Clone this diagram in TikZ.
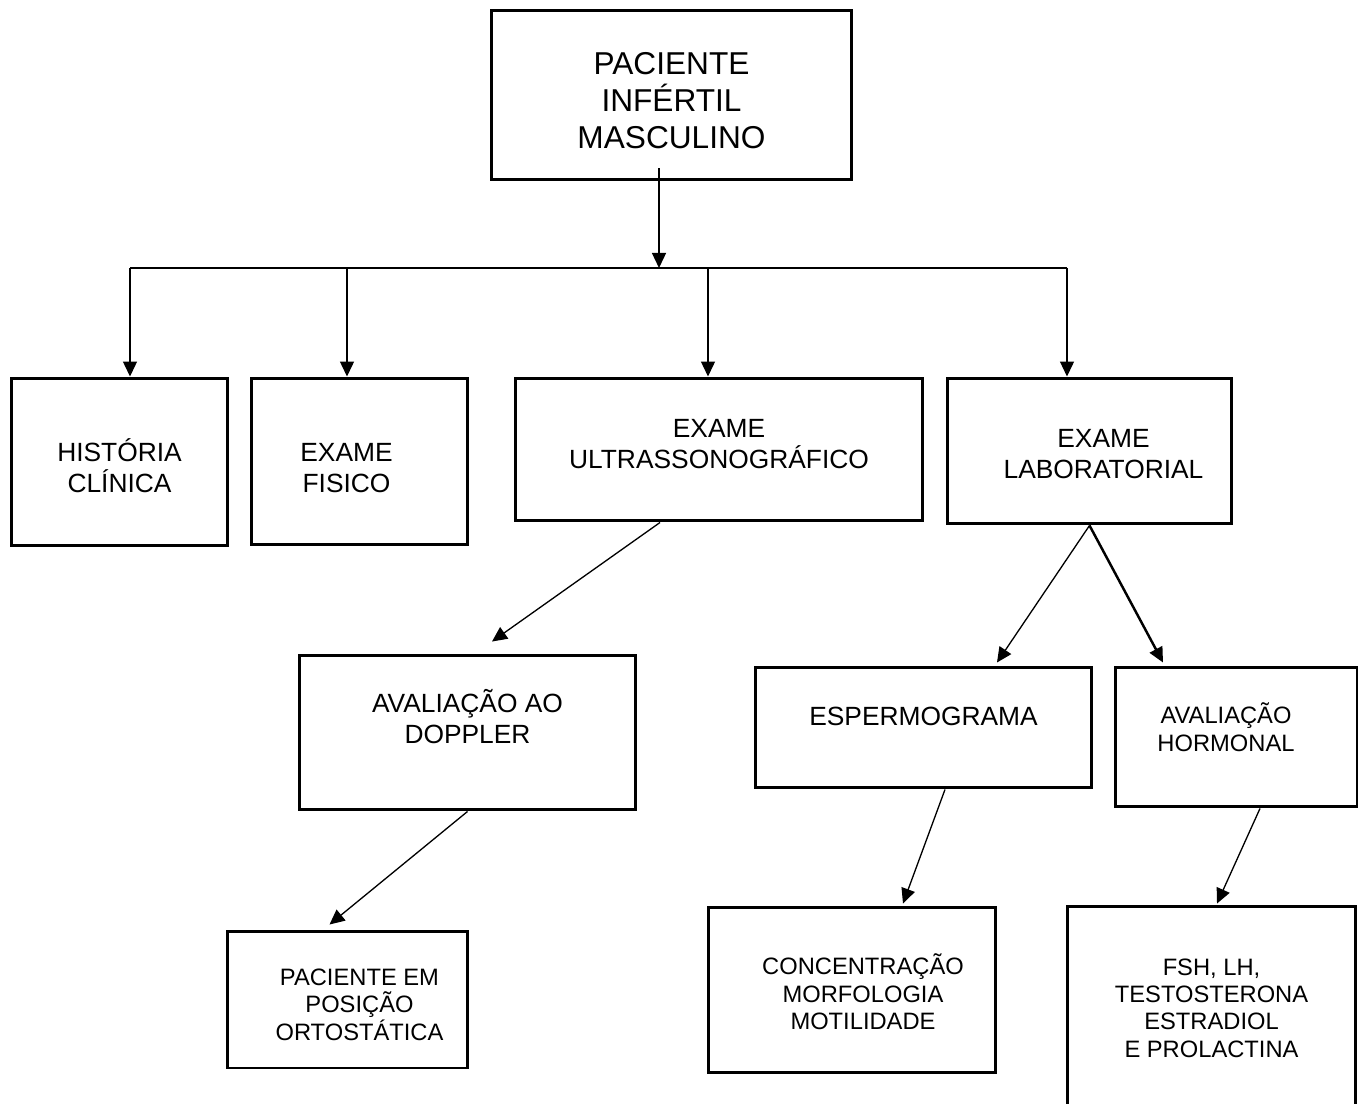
\documentclass[tikz,border=0pt]{standalone}
\usepackage{fontspec}
\setmainfont{Liberation Sans}
\usetikzlibrary{arrows.meta,positioning}

\begin{document}
\begin{tikzpicture}[
    x=0.02cm, y=-0.02cm,
    box/.style={draw, line width=1.7pt, inner sep=0pt},
    bigtext/.style={align=center, font=\fontsize{18}{21}\selectfont},
    boxtext/.style={align=center, font=\fontsize{15}{17.6}\selectfont},
    smalltext/.style={align=center, font=\fontsize{13.5}{15.6}\selectfont},
    arrow/.style={-{Triangle[length=3mm, width=2.8mm]}, line width=0.75pt},
    boldarrow/.style={-{Triangle[length=3mm, width=2.8mm]}, line width=1.4pt}
]
\useasboundingbox (0,0) rectangle (1365,1104);
% top of the tree
\node[box, minimum width=7.22cm, minimum height=3.40cm,
      label={[bigtext, yshift=-0.12cm]center:PACIENTE\\INFÉRTIL\\MASCULINO}] (paciente) at (671.5,95) {};
% first level
\node[box, minimum width=4.34cm, minimum height=3.36cm,
      label={[boxtext, yshift=-0.08cm]center:HISTÓRIA\\CLÍNICA}] (historia) at (119.5,462) {};
\node[box, minimum width=4.34cm, minimum height=3.34cm,
      label={[boxtext, xshift=-0.26cm, yshift=-0.14cm]center:EXAME\\FISICO}] (fisico) at (359.5,461.5) {};
\node[box, minimum width=8.16cm, minimum height=2.86cm,
      label={[boxtext, yshift=0.10cm]center:EXAME\\ULTRASSONOGRÁFICO}] (ultra) at (719,449.5) {};
\node[box, minimum width=5.70cm, minimum height=2.92cm,
      label={[boxtext, xshift=0.28cm, yshift=-0.06cm]center:EXAME\\LABORATORIAL}] (lab) at (1089.5,451) {};
% second level
\node[box, minimum width=6.74cm, minimum height=3.10cm,
      label={[boxtext, yshift=0.32cm]center:AVALIAÇÃO AO\\DOPPLER}] (doppler) at (467.5,732.5) {};
\node[box, minimum width=6.74cm, minimum height=2.42cm,
      label={[boxtext, yshift=0.22cm]center:ESPERMOGRAMA}] (esperm) at (923.5,727.5) {};
\node[box, minimum width=4.84cm, minimum height=2.80cm,
      label={[smalltext, xshift=-0.2cm, yshift=0.20cm]center:AVALIAÇÃO\\HORMONAL}] (hormonal) at (1236,737) {};
% third level
\node[box, minimum width=4.82cm, minimum height=2.74cm,
      label={[smalltext, xshift=0.24cm, yshift=-0.10cm]center:PACIENTE EM\\POSIÇÃO\\ORTOSTÁTICA}] (ortost) at (347.5,999.5) {};
\node[box, minimum width=5.76cm, minimum height=3.32cm,
      label={[smalltext, xshift=0.22cm, yshift=-0.04cm]center:CONCENTRAÇÃO\\MORFOLOGIA\\MOTILIDADE}] (concent) at (852,990) {};
\node[box, minimum width=5.78cm, minimum height=4.08cm,
      label={[smalltext]center:FSH, LH,\\TESTOSTERONA\\ESTRADIOL\\E PROLACTINA}] (fsh) at (1211.5,1008) {};
% bus line
\coordinate (bus) at (659,268);
\coordinate (busL) at (130,268);
\coordinate (busR) at (1067,268);
\draw[arrow] ([yshift=0.26cm]paciente.south -| bus) -- (bus);
\draw[line width=0.75pt] (busL) -- (busR);
\draw[arrow] (busL) -- (busL |- historia.north);
\draw[arrow] (busL -| 347,0) -- (historia.north -| 347,0);
\draw[arrow] (busL -| 708,0) -- (ultra.north -| 708,0);
\draw[arrow] (busR) -- (busR |- lab.north);
% diagonals
\draw[arrow] ([xshift=-1.18cm]ultra.south) -- ([xshift=0.49cm, yshift=0.24cm]doppler.north);
\draw[arrow] (doppler.south) -- ([xshift=-0.36cm, yshift=0.1cm]ortost.north);
\draw[arrow] (lab.south) -- ([xshift=1.47cm, yshift=0.06cm]esperm.north);
\draw[boldarrow] (lab.south) -- ([xshift=-1.46cm, yshift=0.06cm]hormonal.north);
\draw[arrow] ([xshift=0.43cm]esperm.south) -- ([xshift=1.02cm, yshift=0.04cm]concent.north);
\draw[arrow] ([xshift=0.48cm]hormonal.south) -- ([xshift=0.11cm, yshift=0.02cm]fsh.north);
\end{tikzpicture}
\end{document}
